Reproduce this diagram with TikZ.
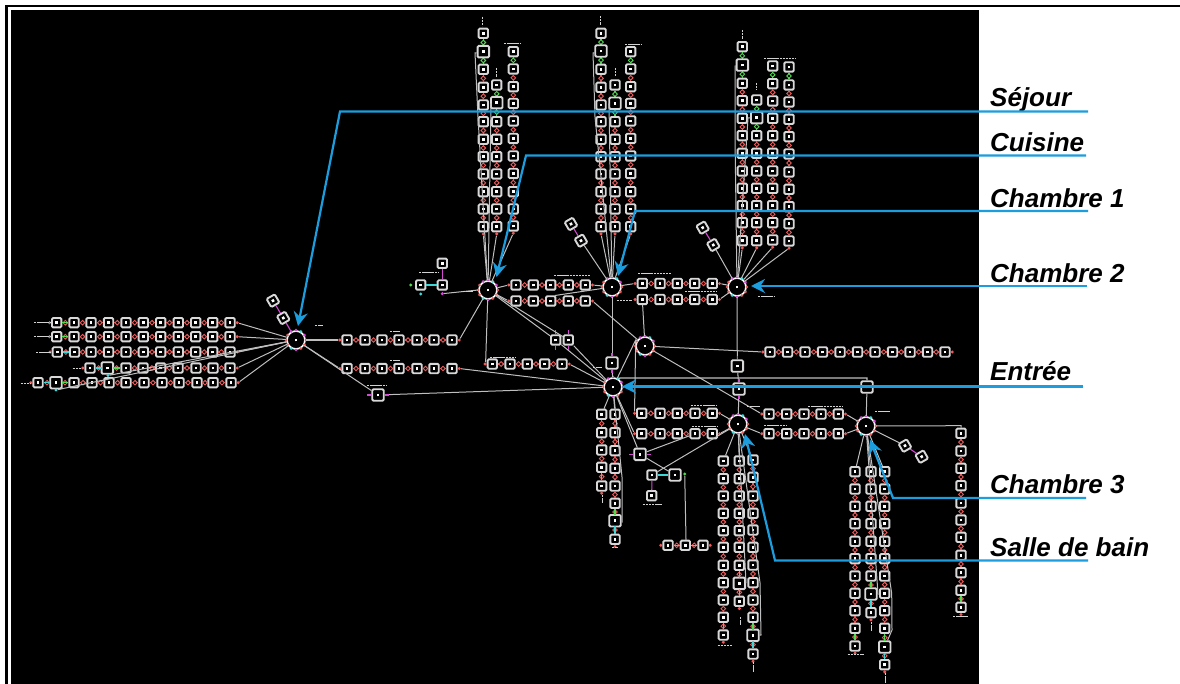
\documentclass[tikz,border=0pt]{standalone}
\usepackage{fontspec}
\setmainfont{Liberation Sans}
\usetikzlibrary{arrows.meta,shapes.geometric,calc}
\definecolor{skyblue}{HTML}{1B9DDE}
\definecolor{boxline}{HTML}{D8D8D8}
\definecolor{wire}{HTML}{BEBEBE}
\definecolor{linkred}{HTML}{EE5A5A}
\definecolor{linkmag}{HTML}{D24AD2}
\definecolor{linkcyan}{HTML}{3FD6D6}
\definecolor{linkgreen}{HTML}{4FDC4F}
\tikzset{
  sq/.style={draw=boxline,fill=black,line width=1.9pt,rounded corners=1.2pt,minimum size=9.4pt,inner sep=0pt,text=white},
  sqb/.style={sq,minimum size=11.5pt},
  dsq/.style={sq,rotate=30},
  hubn/.style={circle,draw=white,fill=black,line width=1.7pt,minimum size=18pt,inner sep=0pt,text=white},
  wirel/.style={draw=wire,line width=1pt},
  wireh/.style={draw=wire,line width=1.3pt},
  mini/.style={draw=white!82!black,line width=0.9pt,dash pattern=on 2.4pt off 0.7pt},
  lnk/.style={line width=1.1pt},
  lnkd/.style={diamond,draw,fill=black,line width=0.9pt,inner sep=0pt,minimum size=5pt},
  portn/.style={circle,inner sep=0pt,minimum size=3.4pt},
  blueline/.style={draw=skyblue,line width=2.2pt},
  bluearrow/.style={blueline,-{Stealth[length=14pt,width=14pt]}},
  roomlabel/.style={anchor=base west,inner sep=0pt,font=\fontsize{26}{26}\selectfont\bfseries\itshape}
}
\newcommand\glyph{\rule{2.6pt}{2.6pt}}
% vertical chain: name, x, y-list, number of top links in green
\newcommand\chainv[4]{%
  \foreach \yy [count=\i] in {#3} {\node[sq] (#1-\i) at (#2,\yy) {\glyph};\xdef\lastn{\i}\xdef\lasty{\yy}}
  \foreach \yy [count=\i,remember=\i as \p (initially 0)] in {#3} {%
    \ifnum\i>1
      \ifnum\p>#4 \def\cc{linkred}\else\def\cc{linkgreen}\fi
      \draw[lnk,\cc] (#1-\p) -- node[lnkd,draw=\cc] (#1-m\i) {} (#1-\i);
    \fi}
  \node[portn,fill=linkred] (#1-e) at (#2,\lasty+7.2) {};
}
% horizontal chain: name, y, x-list
\newcommand\chainh[3]{%
  \foreach \xx [count=\i] in {#3} {\node[sq] (#1-\i) at (\xx,#2) {\glyph};\xdef\lastn{\i}\xdef\lastx{\xx}}
  \foreach \xx [count=\i,remember=\i as \p (initially 0)] in {#3} {%
    \ifnum\i=1
      \node[portn,fill=linkred] (#1-s) at (\xx-7.2,#2) {};
    \else
      \draw[lnk,linkred] (#1-\p) -- node[lnkd,draw=linkred] (#1-m\i) {} (#1-\i);
    \fi}
  \node[portn,fill=linkred] (#1-e) at (\lastx+7.2,#2) {};
}
\newcommand\hub[3]{%
  \node[hubn] (#1) at (#2,#3) {\rule{2.6pt}{2.6pt}};
  \foreach \a/\c in {0/linkred,30/linkmag,60/linkcyan,90/linkmag,120/linkmag,150/linkred,180/linkred,210/linkred,240/linkcyan,270/linkmag,300/linkred,330/linkred}
    {\node[portn,fill=\c,minimum size=3pt] (#1-p\a) at (#1.\a) {};}
}
\newcommand\twin[3]{% two tilted boxes
  \node[dsq] (#1-1) at (#2) {\glyph};
  \node[dsq] (#1-2) at (#3) {\glyph};
  \draw[lnk,linkmag] (#1-1) -- (#1-2);
}
\begin{document}
\begin{tikzpicture}[x=1pt,y=-1pt]
\useasboundingbox (0,0) rectangle (1180,684);
\fill[white] (0,0) rectangle (1180,684);
\fill[black] (5,5) rectangle (1180,7);
\fill[black] (5,5) rectangle (7.5,684);
\fill[black] (11,10) rectangle (979,684);

% hubs
\hub{sej}{296}{340}
\hub{cui}{488}{290}
\hub{chi}{612}{287}
\hub{chii}{737}{287}
\hub{ent}{613}{387}
\hub{aux}{645}{346}
\hub{sdb}{738}{424}
\hub{chiii}{866}{426}

% Sejour rows
\chainh{ra}{322.7}{56.7,74,91,108.5,126,143.3,160.7,178.3,195.7,212.7,230}
\chainh{rb}{336.7}{56.7,74,91,108.5,126,143.3,160.7,178.3,195.7,212.7,230}
\chainh{rc}{352}{57.3,74.5,91,108.5,126,143.3,160.7,178.3,195.7,212.7,230}
\chainh{rd}{368}{90,107.3,126,143,160.7,178,196,213,230}
\chainh{re}{382.7}{38,56,74,92,109,126,144,162,179,197,213,231}
\node[sqb] (rd-big) at (rd-2) {\glyph};
\node[sqb] (re-big) at (re-2) {\glyph};
\draw[lnk,linkgreen] (ra-1) -- (ra-2);
\draw[lnk,linkgreen] (rb-1) -- (rb-2);
\draw[lnk,linkcyan] (rc-1) -- (rc-2);
\draw[lnk,linkcyan] (rd-1) -- (rd-2);
\draw[lnk,linkgreen] (rd-2) -- (rd-3);
\draw[lnk,linkcyan] (re-1) -- (re-2);
\draw[lnk,linkgreen] (re-2) -- (re-3);
\node[portn,fill=linkcyan] (rd-x) at (108,375.5) {};
\node[portn,fill=linkcyan] (re-x) at (56,390) {};
\foreach \n in {ra-e,rb-e,rc-e,rd-e,re-e,rd-x,re-x} \draw[wirel] (\n) -- (sej);
\twin{tsej}{273,300.7}{283.3,318}
\draw[lnk,linkmag] (tsej-2) -- (sej);

% Sejour -> right
\chainh{sa}{340}{347,365,382,399,417,434,452}
\chainh{sb}{368.5}{347,365,382,399,417,434,452}
\draw[wireh] (sej) -- (sa-s);
\draw[wirel] (sej) -- (sb-s);
\node[sqb] (pe) at (378,395) {\glyph};
\draw[wirel] (sej) -- (pe);
\draw[wirel] (pe) -- (ent);
\draw[lnk,linkmag] (pe.west) -- ++(-4,0);
\draw[lnk,linkmag] (pe.east) -- ++(4,0);
\draw[wirel] (sa-e) -- (cui);
\draw[wirel] (sb-e) -- (ent);

% Cuisine columns
\chainv{ca}{483.3}{33.3,51.7,69.3,87.3,105,121.7,139.3,156.7,174,191.7,209,226.7}{2}
\chainv{cb}{496.7}{85,102.7,121.7,139.3,156.7,174,191.7,209,226.7}{2}
\chainv{cc}{513.3}{51.7,69,86.7,103.5,121,138.5,156,173.5,191.7,209,226}{1}
\node[sqb] (ca-big) at (ca-2) {\glyph};
\node[sqb] (cb-big) at (cb-2) {\glyph};
\foreach \n in {ca-e,cb-e,cc-e} \draw[wirel] (\n) -- (cui);
\coordinate (ca-w1) at (475,53);
\coordinate (ca-w2) at (478,117);
\coordinate (cb-w1) at (491,104);
\draw[wirel] (ca-big) -- (ca-w1) -- (ca-w2) -- (cui);
\draw[wirel] (cb-big) -- (cb-w1) -- (cui);
% left of Cuisine
\node[sq] (la) at (442.3,263.3) {\glyph};
\node[sq] (lb) at (442.3,285) {\glyph};
\node[sq] (lc) at (420.7,285) {\glyph};
\draw[lnk,linkmag] (la) -- (lb);
\draw[lnk,linkcyan] (lc) -- (lb);
\node[portn,fill=linkgreen] (ld) at (410.7,285) {};
\node[portn,fill=linkcyan] (le) at (420.7,294) {};
\node[portn,fill=linkmag] (lf) at (442.3,293.7) {};
\draw[wirel] (lf) -- (cui.180);
% Chambre 1 columns
\chainv{da}{601}{33.3,51,69.3,87.3,105,121.7,139.3,156.7,174,191.7,209,226.7}{2}
\chainv{db}{615}{85,103.3,121.7,139.3,156.7,174,191.7,209,226.7}{2}
\chainv{dc}{630.7}{51.7,69,86.7,103.5,121,138.5,156,173.5,191.7,209,226.7}{1}
\node[sqb] (da-big) at (da-2) {\glyph};
\node[sqb] (db-big) at (db-2) {\glyph};
\foreach \n in {da-e,db-e,dc-e} \draw[wirel] (\n) -- (chi);
\coordinate (da-w1) at (593,53);
\coordinate (da-w2) at (595,117);
\coordinate (db-w1) at (609,104);
\draw[wirel] (da-big) -- (da-w1) -- (da-w2) -- (chi);
\draw[wirel] (db-big) -- (db-w1) -- (chi);
\twin{tchi}{571,224}{581,240.7}
\draw[wirel] (tchi-2) -- (chi);
% Chambre 2 columns
\chainv{ea}{742.3}{46.7,65,83.3,100.7,118.3,135.7,153.3,171,188.3,205.7,222.7,240.7}{2}
\chainv{eb}{756.7}{100,117.7,135.7,153.3,171,188.3,205.7,222.7,240.7}{2}
\chainv{ec}{772.7}{66,83.7,101,118.3,135.7,153.3,171,188.3,205.7,222.7,240}{1}
\chainv{ed}{789}{67,85,102,119.3,136.7,154,172,189.3,206.7,223.7,241}{1}
\node[sqb] (ea-big) at (ea-2) {\glyph};
\node[sqb] (eb-big) at (eb-2) {\glyph};
\foreach \n in {ea-e,eb-e,ec-e,ed-e} \draw[wirel] (\n) -- (chii);
\coordinate (ea-w1) at (735,66);
\coordinate (ea-w2) at (735,137);
\coordinate (eb-w1) at (748,118);
\draw[wirel] (ea-big) -- (ea-w1) -- (ea-w2) -- (chii);
\draw[wirel] (eb-big) -- (eb-w1) -- (chii);
\twin{tchii}{702.7,227.7}{713.3,245}
\draw[wirel] (tchii-2) -- (chii);
% horizontal chains between the rooms
\chainh{fa}{285}{516,533.3,550.7,568.3,585.3}
\chainh{fb}{301}{516,533.3,550.7,568.3,585.3}
\chainh{ga}{283.5}{642.3,660,677.3,694.7,712.3}
\chainh{gb}{299.5}{642.3,660,677.3,694.7,712.3}
\foreach \a/\b in {cui/fa-s,cui/fb-s,fa-e/chi,chi/ga-s,ga-e/chii,gb-e/chii,fb-e/aux} \draw[wirel] (\a) -- (\b);
\coordinate (fbw) at (555,295.5);
\draw[wirel] (fbw) -- (chi);
\draw[wirel] (gb-1) -- (aux);
% Entree surroundings
\node[sqb] (up) at (612,363) {\glyph};
\draw[wirel] (chi) -- (up);
\draw[wirel] (up) -- (ent);
\draw[lnk,linkmag] (up.north) -- ++(0,-3);
\draw[lnk,linkmag] (up.south) -- ++(0,3);
\node[sq] (pa) at (555.7,340) {\glyph};
\node[sq] (pb) at (568.3,340) {\glyph};
\foreach \n in {pa,pb} {\draw[wirel] (cui) -- (\n); \draw[wirel] (\n) -- (ent);
  \draw[lnk,linkmag] (\n.north) -- ++(0,-4); \draw[lnk,linkmag] (\n.south) -- ++(0,4);}
\chainh{ha}{364}{492.3,510,527.3,544.7,562}
\coordinate (haw) at (485.7,360);
\draw[wirel] (cui) -- (haw) -- (ha-s);
\draw[wirel] (ha-e) -- (ent);
\chainh{ia}{352}{770,787.5,805,822.5,840,857.5,875,892.5,910,927.5,945}
\draw[wirel] (aux) -- (ia-s);
\coordinate (auxw) at (635.7,340);
\draw[wirel] (ent) -- (auxw) -- (aux);
\chainh{ja}{413.3}{641.7,660,677.3,695,712.3}
\chainh{jb}{433.7}{641.7,660,677.3,695,712.3}
\draw[wirel] (auxw) -- (ja-s);
\draw[wirel] (ent) -- (jb-s);
\draw[wirel] (ja-e) -- (sdb);
\draw[wirel] (jb-e) -- (sdb);
% chain to Chambre 2 / Salle de bain
\node[sqb] (va) at (737.3,366) {\glyph};
\node[sqb] (vb) at (739,389) {\glyph};
\draw[wirel] (chii) -- (va);
\draw[wirel] (va) -- (vb);
\draw[wirel] (vb) -- (sdb);
\draw[lnk,linkmag] (va.north) -- ++(0,-3);
\draw[lnk,linkmag] (va.south) -- ++(0,3);
\draw[lnk,linkmag] (vb.north) -- ++(0,-3);
\draw[lnk,linkmag] (vb.south) -- ++(0,3);
% top line to Chambre 3
\node[sqb] (vc) at (867,387) {\glyph};
\coordinate (vct) at (867,378);
\draw[wireh] (ent) -- ($(ent)+(7,-9)$) -- (vct) -- (vc);
\draw[wirel] (vc) -- (chiii);
% Entree columns
\chainv{ka}{601.7}{414.3,432.7,450,467.3,486}{0}
\chainv{kb}{615}{414.3,432.7,450.7,468.3,486,503.3,520.7,539.3}{0}
\node[sqb] (kb-big) at (kb-7) {\glyph};
\draw[lnk,linkgreen] (ka-4) -- (ka-5);
\draw[lnk,linkgreen] (kb-6) -- (kb-7);
\draw[lnk,linkcyan] (kb-7) -- (kb-8);
\draw[wirel] (ent) -- (ka-1);
\draw[wirel] (ent) -- (kb-1);
\coordinate (kbw) at (622,477);
\coordinate (kbv) at (622,522);
\draw[wirel] (kb-big) -- (kbv) -- (kbw) -- (ent);
% lower middle group
\node[sqb] (ma) at (640,454.3) {\glyph};
\draw[wirel] (ent) -- (ma);
\draw[lnk,linkmag] (ma.west) -- ++(-4,0);
\draw[lnk,linkmag] (ma.east) -- ++(4,0);
\draw[wirel] (ma) -- (jb-4);
\node[sq] (mb) at (652,475) {\glyph};
\node[sqb] (mc) at (675,475) {\glyph};
\node[sq] (md) at (651.7,495.7) {\glyph};
\draw[lnk,linkmag] (mb) -- (md);
\draw[lnk,linkcyan] (mb) -- (mc);
\draw[wirel] (mb) -- (sdb);
\draw[wirel] (ma) -- (mc);
\node[portn,fill=linkgreen] (mcr) at (684.7,474) {};
\chainh{na}{545.3}{668,685.3,703}
\draw[lnk,linkgreen] (na-1) -- (na-2);
\draw[lnk,linkcyan] (na-2) -- (na-3);
\coordinate (naw) at (686,539);
\draw[wirel] (mcr) -- (naw) -- (na-2);
\draw[lnk,linkgreen] (naw) -- (na-2);
% Salle de bain columns
\chainv{oa}{723.3}{461,478.7,496,513.3,530.7,547.3,565.3,582.7,600,617.3,635}{0}
\chainv{ob}{739.3}{461,478.7,496,513.3,530.7,547.3,565.3,583.3,601.3}{0}
\chainv{oc}{753}{460,477.3,496,513.3,530,547.3,565,582.7,600,617.3,635.3,654}{0}
\node[sqb] (ob-big) at (ob-8) {\glyph};
\node[sqb] (oc-big) at (oc-11) {\glyph};
\draw[lnk,linkgreen] (oa-10) -- (oa-11);
\draw[lnk,linkgreen] (ob-7) -- (ob-8);
\draw[lnk,linkcyan] (ob-8) -- (ob-9);
\draw[lnk,linkgreen] (oc-10) -- (oc-11);
\draw[lnk,linkcyan] (oc-11) -- (oc-12);
\foreach \n in {oa-1,ob-1,oc-1} \draw[wirel] (sdb) -- (\n);
\coordinate (obw) at (746,583);
\coordinate (ocw) at (761,635);
\draw[wirel] (sdb) -- (obw) -- (ob-big);
\draw[wirel] (sdb) -- ($(oc-8)+(7,0)$) -- (ocw) -- (oc-big);
% Chambre 3 columns
\chainv{qa}{855}{471.7,489,506.3,523.7,541.3,558.7,576,593.3,610.7,628.3,646}{0}
\chainv{qb}{871}{471.7,489,506.3,523.7,541.3,558.7,576,594,612.7}{0}
\chainv{qc}{884.7}{471.7,489,506.3,523.7,541.3,558.7,576,593.3,610.7,628.3,647,664.7}{0}
\chainv{qd}{961}{433.3,451,468.3,485.7,503,520,537.3,555.3,572.7,590.3,607.3}{0}
\node[sqb] (qb-big) at (qb-8) {\glyph};
\node[sqb] (qc-big) at (qc-11) {\glyph};
\draw[lnk,linkgreen] (qa-10) -- (qa-11);
\draw[lnk,linkgreen] (qb-7) -- (qb-8);
\draw[lnk,linkcyan] (qb-8) -- (qb-9);
\draw[lnk,linkgreen] (qc-10) -- (qc-11);
\draw[lnk,linkcyan] (qc-11) -- (qc-12);
\draw[lnk,linkgreen] (qd-10) -- (qd-11);
\foreach \n in {qa-1,qb-1,qc-1} \draw[wirel] (chiii) -- (\n);
\coordinate (qbw) at (878,594);
\coordinate (qcw) at (892,630);
\draw[wirel] (chiii) -- (qbw) -- (qb-big);
\draw[wirel] (chiii) -- ($(qc-8)+(7,0)$) -- (qcw) -- (qc-big);
\coordinate (qdw) at (961,425.7);
\draw[wirel] (chiii) -- (qdw) -- (qd-1);
\twin{tchiii}{905,445.7}{921.7,456.7}
\draw[wirel] (chiii) -- (tchiii-1);
% chains Salle de bain -- Chambre 3
\chainh{ra3}{414}{769,786.7,804,821,838.3}
\chainh{rb3}{433.7}{769,786.7,804,821,838.3}
\draw[wirel] (aux) -- (ra3-s);
\draw[wirel] (sdb) -- (rb3-s);
\draw[wirel] (ra3-e) -- (chiii);
\draw[wirel] (rb3-e) -- (chiii);

% tiny illegible captions, kept as marks
\foreach \a/\b/\c in {34/51.7/322.7,34/51/336.7,36/50.7/352,72.7/81.7/368,20.7/30.7/383,315/322.7/325.7,390/400/331.7,390/400/360,367/387/385,
 504/520/43,625/640.7/44,764/796/58.3,419/438/272.7,463/473/291.7,554/590/275,638/670.7/273,616.7/631.7/300,685/716.7/291.7,758/775/296,
 593/601.7/367,490/515/357,690.7/717/405,691.7/718.3/426.7,747/760/406,764/786.7/425,808/843/406,875/890/411.7,642.7/661.7/504,717.7/732.3/645.7,847.7/863.3/654.3,953/968/616.7,612/618/547}
 \draw[mini] (\a,\c) -- (\b,\c);
\foreach \x/\a/\b in {482.7/16.7/26,496.7/68/77,600.7/16/25,615/68/76,742.3/30/39,756/83/90,602/495/503,740/617/625,753/662/672,871/622/631,885.7/673/683}
 \draw[mini] (\x,\a) -- (\x,\b);

% room labels and blue leaders
\node[roomlabel] (lsej) at (990,106.7) {Séjour};
\node[roomlabel] (lcui) at (990,151.5) {Cuisine};
\node[roomlabel] (lchi) at (990,207.5) {Chambre 1};
\node[roomlabel] (lchii) at (990,282.5) {Chambre 2};
\node[roomlabel] (lent) at (990,381) {Entrée};
\node[roomlabel] (lchiii) at (990,493) {Chambre 3};
\node[roomlabel] (lsdb) at (990,556) {Salle de bain};
\coordinate (asej) at (1088,111.5); \coordinate (bsej) at (340,111.5); \coordinate (tsej) at (298,326);
\coordinate (acui) at (1086,155.5); \coordinate (bcui) at (526,155.5); \coordinate (tcui) at (496.5,277);
\coordinate (achi) at (1088,211); \coordinate (bchi) at (635,211); \coordinate (tchi) at (618,276);
\coordinate (achii) at (1087,286); \coordinate (tchii) at (751,286);
\coordinate (aent) at (1083,386.5); \coordinate (tent) at (622,386.5);
\coordinate (achiii) at (1086,498); \coordinate (bchiii) at (893,498); \coordinate (tchiii) at (870,440);
\coordinate (asdb) at (1088,560.5); \coordinate (bsdb) at (775,560.5); \coordinate (tsdb) at (745,434);
\draw[bluearrow] (asej) -- (bsej) -- (tsej);
\draw[bluearrow] (acui) -- (bcui) -- (tcui);
\draw[bluearrow] (achi) -- (bchi) -- (tchi);
\draw[bluearrow] (achii) -- (tchii);
\draw[bluearrow] (aent) -- (tent);
\draw[bluearrow] (achiii) -- (bchiii) -- (tchiii);
\draw[bluearrow] (asdb) -- (bsdb) -- (tsdb);
\end{tikzpicture}
\end{document}
